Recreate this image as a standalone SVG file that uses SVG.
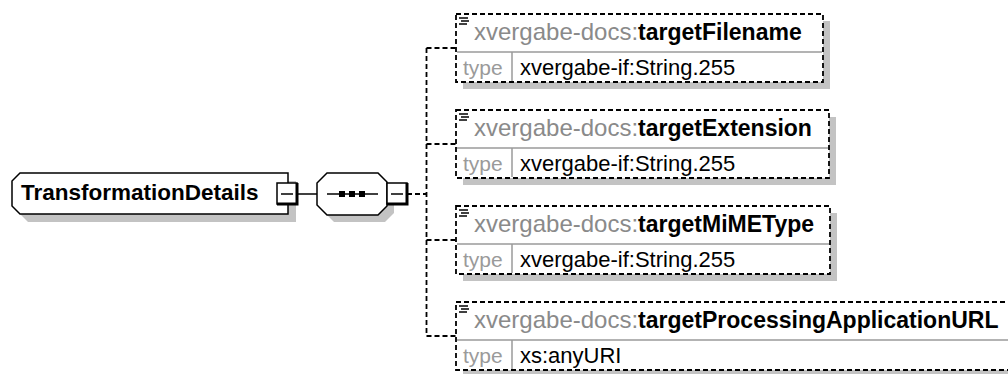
<svg xmlns="http://www.w3.org/2000/svg" width="1008" height="374" viewBox="0 0 1008 374">
<style>
.bg{fill:#fff}
.shadow{fill:#c3c3c3}
.ebox{fill:#fff;stroke:#000;stroke-width:1.5}
.box{fill:#fff;stroke:#000;stroke-width:1.8;stroke-dasharray:5 3}
.sep{stroke:#9a9a9a;stroke-width:1.5}
.conn{fill:none;stroke:#000;stroke-width:1.8;stroke-dasharray:5 3}
.solid{fill:none;stroke:#000;stroke-width:1.5}
.exp{fill:#fff;stroke:#000;stroke-width:1.5}
.expsh{fill:none;stroke:#000;stroke-width:3}
.icon{stroke:#000;stroke-width:1.5}
text{font-family:"Liberation Sans",Arial,sans-serif}
.ns{fill:#8a8a8a;font-size:24px}
.nm{fill:#000;font-size:23px;font-weight:bold}
.tl{fill:#9a9a9a;font-size:21px}
.tv{fill:#000;font-size:22px}
.main{fill:#000;font-size:22.5px;font-weight:bold}
</style>
<defs>
<g id="ico"><line class="icon" x1="3" y1="4" x2="12" y2="4"/><line class="icon" x1="5" y1="7" x2="13" y2="7"/><line class="icon" x1="3" y1="10" x2="11" y2="10"/></g>
</defs>
<rect class="bg" width="1008" height="374"/>

<g id="connectors">
<line class="solid" x1="297" y1="194" x2="317" y2="194"/>
<line class="conn" x1="407" y1="194" x2="427" y2="194"/>
<line class="conn" x1="426.5" y1="48" x2="426.5" y2="336"/>
<line class="conn" x1="426.5" y1="48" x2="456" y2="48"/>
<line class="conn" x1="426.5" y1="144" x2="456" y2="144"/>
<line class="conn" x1="426.5" y1="240" x2="456" y2="240"/>
<line class="conn" x1="426.5" y1="336" x2="456" y2="336"/>
</g>

<g id="TransformationDetails">
<polygon class="shadow" points="28,181 296,181 296,222 28,222 20,214 20,189"/>
<polygon class="ebox" points="20,173 288,173 288,214 20,214 12,206 12,181"/>
<text class="main" x="21" y="200">TransformationDetails</text>
<rect class="exp" x="277" y="183" width="20" height="21"/>
<path class="expsh" d="M297,183 V204 H277"/>
<line class="solid" x1="281" y1="194" x2="293" y2="194"/>
</g>

<g id="sequence">
<polygon class="shadow" points="334,180 385,180 394,189 394,213 385,222 334,222 324,212 324,190"/>
<polygon class="ebox" points="327,173 378,173 387,182 387,206 378,215 327,215 317,205 317,183"/>
<line class="solid" x1="327" y1="194" x2="378" y2="194"/>
<rect x="339" y="191" width="6" height="6" fill="#000"/>
<rect x="349" y="191" width="6" height="6" fill="#000"/>
<rect x="359" y="191" width="6" height="6" fill="#000"/>
<rect class="exp" x="387" y="183" width="20" height="21"/>
<path class="expsh" d="M407,183 V204 H387"/>
<line class="solid" x1="391" y1="194" x2="403" y2="194"/>
</g>

<g id="targetFilename">
<rect class="shadow" x="463" y="21" width="367" height="68"/>
<rect class="box" x="456" y="14" width="367" height="68"/>
<line class="sep" x1="457" y1="52" x2="822" y2="52"/>
<line class="sep" x1="512" y1="52" x2="512" y2="81"/>
<use href="#ico" x="456" y="14"/>
<text x="474" y="40"><tspan class="ns">xvergabe-docs:</tspan><tspan class="nm">targetFilename</tspan></text>
<text class="tl" x="463" y="75">type</text>
<text class="tv" x="520" y="75">xvergabe-if:String.255</text>
</g>

<g id="targetExtension">
<rect class="shadow" x="463" y="117" width="373" height="68"/>
<rect class="box" x="456" y="110" width="373" height="68"/>
<line class="sep" x1="457" y1="148" x2="828" y2="148"/>
<line class="sep" x1="512" y1="148" x2="512" y2="177"/>
<use href="#ico" x="456" y="110"/>
<text x="474" y="136"><tspan class="ns">xvergabe-docs:</tspan><tspan class="nm">targetExtension</tspan></text>
<text class="tl" x="463" y="171">type</text>
<text class="tv" x="520" y="171">xvergabe-if:String.255</text>
</g>

<g id="targetMiMEType">
<rect class="shadow" x="463" y="213" width="374" height="68"/>
<rect class="box" x="456" y="206" width="374" height="68"/>
<line class="sep" x1="457" y1="244" x2="829" y2="244"/>
<line class="sep" x1="512" y1="244" x2="512" y2="273"/>
<use href="#ico" x="456" y="206"/>
<text x="474" y="232"><tspan class="ns">xvergabe-docs:</tspan><tspan class="nm">targetMiMEType</tspan></text>
<text class="tl" x="463" y="267">type</text>
<text class="tv" x="520" y="267">xvergabe-if:String.255</text>
</g>

<g id="targetProcessingApplicationURL">
<rect class="shadow" x="463" y="309" width="560" height="68"/>
<rect class="box" x="456" y="302" width="560" height="68"/>
<line class="sep" x1="457" y1="340" x2="1008" y2="340"/>
<line class="sep" x1="512" y1="340" x2="512" y2="369"/>
<use href="#ico" x="456" y="302"/>
<text x="474" y="328"><tspan class="ns">xvergabe-docs:</tspan><tspan class="nm">targetProcessingApplicationURL</tspan></text>
<text class="tl" x="463" y="363">type</text>
<text class="tv" x="520" y="363">xs:anyURI</text>
</g>
</svg>
